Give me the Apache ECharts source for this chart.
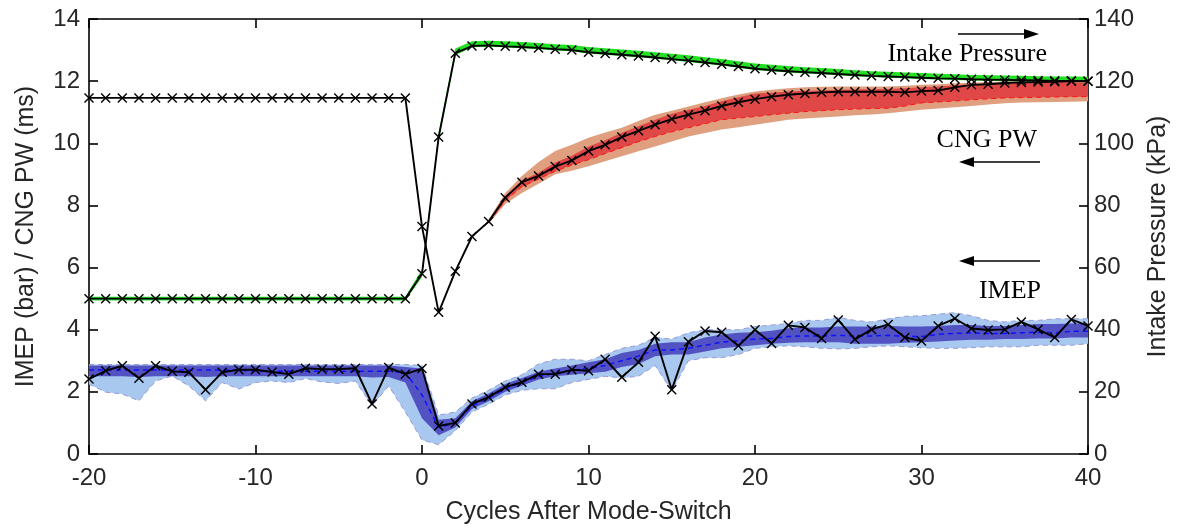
<!DOCTYPE html>
<html>
<head>
<meta charset="utf-8">
<script src="https://cdn.jsdelivr.net/npm/echarts/dist/echarts.min.js"></script>
<style>
html,body{margin:0;padding:0;background:#fff;}
#chart{width:1183px;height:527px;}
</style>
</head>
<body>
<div id="chart"></div>
<script>
// ---------------- data ----------------
const cycles = [-20,-19,-18,-17,-16,-15,-14,-13,-12,-11,-10,-9,-8,-7,-6,-5,-4,-3,-2,-1,
  0,1,2,3,4,5,6,7,8,9,10,11,12,13,14,15,16,17,18,19,20,
  21,22,23,24,25,26,27,28,29,30,31,32,33,34,35,36,37,38,39,40];

// IMEP (bar), single run (black x)
const imep = [2.41,2.68,2.84,2.44,2.84,2.66,2.63,2.07,2.63,2.71,2.71,2.64,2.57,2.76,2.73,2.73,2.76,1.61,2.78,2.57,
  2.75,0.90,1.00,1.61,1.83,2.15,2.31,2.57,2.57,2.71,2.68,
  3.05,2.47,2.95,3.79,2.07,3.61,3.96,3.92,3.48,4.00,
  3.56,4.14,4.07,3.72,4.31,3.69,4.01,4.17,3.75,3.64,
  4.12,4.36,4.04,3.99,4.01,4.25,4.01,3.75,4.33,4.12];
// IMEP mean (blue dashed)
const imepMean = [2.70,2.70,2.70,2.70,2.70,2.70,2.70,2.70,2.70,2.70,2.66,2.66,2.66,2.66,2.66,2.66,2.66,2.66,2.66,2.62,
  1.90,0.85,1.00,1.55,1.80,2.10,2.30,2.50,2.60,2.70,2.75,
  2.85,3.00,3.15,3.35,3.35,3.40,3.50,3.60,3.65,3.70,
  3.72,3.78,3.80,3.80,3.82,3.80,3.80,3.82,3.78,3.78,
  3.85,3.88,3.90,3.88,3.88,3.90,3.92,3.90,3.95,3.95];
// IMEP inner band (dark blue)
const imepInHi = [2.85,2.85,2.85,2.85,2.85,2.85,2.85,2.85,2.85,2.85,2.85,2.85,2.85,2.85,2.85,2.85,2.85,2.85,2.85,2.80,
  2.75,1.10,1.15,1.70,1.95,2.25,2.45,2.65,2.75,2.85,2.95,
  3.05,3.25,3.35,3.55,3.60,3.60,3.75,3.85,3.90,3.92,
  3.97,4.05,4.07,4.07,4.10,4.10,4.10,4.12,4.10,4.10,
  4.12,4.15,4.15,4.12,4.12,4.15,4.18,4.18,4.20,4.20];
const imepInLo = [2.50,2.50,2.50,2.48,2.50,2.50,2.50,2.48,2.50,2.50,2.50,2.50,2.50,2.50,2.50,2.50,2.50,2.46,2.48,2.30,
  1.15,0.60,0.85,1.45,1.70,2.00,2.20,2.40,2.50,2.55,2.60,
  2.65,2.80,2.90,3.15,3.20,3.20,3.30,3.40,3.45,3.50,
  3.55,3.58,3.60,3.60,3.60,3.55,3.55,3.55,3.58,3.60,
  3.62,3.65,3.68,3.68,3.70,3.70,3.72,3.72,3.75,3.75];
// IMEP outer band (light blue)
const imepOutHi = [2.88,2.88,2.88,2.88,2.88,2.88,2.88,2.88,2.88,2.88,2.88,2.88,2.88,2.88,2.88,2.88,2.88,2.88,2.88,2.88,
  2.85,1.25,1.35,1.80,2.05,2.35,2.55,2.90,3.05,3.05,3.00,
  3.20,3.40,3.50,3.75,3.70,3.90,4.00,4.00,4.00,4.10,
  4.15,4.20,4.30,4.30,4.40,4.30,4.25,4.35,4.43,4.45,
  4.50,4.55,4.45,4.30,4.25,4.30,4.30,4.35,4.35,4.35];
const imepOutLo = [2.25,1.99,1.93,1.71,2.35,2.51,2.19,1.71,2.30,2.09,2.30,2.35,2.30,2.43,2.32,2.27,2.35,1.55,2.19,1.35,
  0.45,0.30,0.75,1.35,1.60,1.90,2.05,2.10,2.10,2.30,2.40,
  2.50,2.45,2.50,2.85,2.03,3.00,3.10,3.10,3.20,3.40,
  3.45,3.48,3.45,3.40,3.38,3.40,3.45,3.48,3.45,3.42,
  3.40,3.40,3.42,3.45,3.45,3.45,3.50,3.50,3.50,3.55];

// CNG pulse width (ms)
const pw = [11.46,11.46,11.46,11.46,11.46,11.46,11.46,11.46,11.46,11.46,11.46,11.46,11.46,11.46,11.46,11.46,11.46,11.46,11.46,11.46,
  7.32,4.56,5.88,7.00,7.48,8.25,8.75,8.95,9.25,9.45,9.75,
  9.95,10.20,10.40,10.60,10.78,10.92,11.05,11.20,11.32,11.42,
  11.50,11.56,11.60,11.64,11.66,11.66,11.66,11.66,11.64,11.68,
  11.70,11.80,11.88,11.90,11.94,11.96,11.97,11.98,12.00,12.00];
const N20 = [null,null,null,null,null,null,null,null,null,null,null,null,null,null,null,null,null,null,null,null];
// CNG PW inner band (dark red), cycles 4..40
const pwInHi = N20.concat([null,null,null,null,7.50,8.30,8.80,9.05,9.38,9.60,9.90,
  10.10,10.34,10.55,10.76,10.95,11.08,11.20,11.35,11.48,11.60,
  11.63,11.67,11.69,11.70,11.72,11.73,11.74,11.75,11.77,11.80,
  11.83,11.87,11.90,11.92,11.94,11.96,11.97,11.98,11.99,12.00]);
const pwInLo = N20.concat([null,null,null,null,7.45,8.15,8.60,8.85,9.10,9.30,9.47,
  9.67,9.86,10.05,10.22,10.37,10.50,10.63,10.76,10.81,10.86,
  10.92,10.97,11.02,11.05,11.08,11.10,11.12,11.13,11.20,11.30,
  11.33,11.36,11.40,11.43,11.46,11.47,11.48,11.49,11.50,11.50]);
// CNG PW outer band (salmon)
const pwOutHi = N20.concat([null,null,null,null,7.55,8.40,8.95,9.40,9.75,9.95,10.18,
  10.35,10.50,10.72,10.92,11.05,11.18,11.32,11.45,11.57,11.67,
  11.72,11.77,11.80,11.82,11.83,11.83,11.83,11.83,11.85,11.88,
  11.90,11.93,11.95,11.97,11.99,12.00,12.02,12.03,12.04,12.04]);
const pwOutLo = N20.concat([null,null,null,null,7.40,8.05,8.40,8.70,9.00,9.12,9.26,
  9.42,9.58,9.74,9.90,10.06,10.22,10.33,10.44,10.52,10.60,
  10.68,10.76,10.80,10.83,10.86,10.90,10.93,10.97,11.02,11.08,
  11.12,11.16,11.20,11.25,11.29,11.31,11.32,11.33,11.34,11.35]);

// Intake pressure (kPa)
const ip = [50,50,50,50,50,50,50,50,50,50,50,50,50,50,50,50,50,50,50,50,
  58,102,129,131.3,131.5,131.2,131.0,130.7,130.3,130.0,129.3,
  128.9,128.5,128.1,127.6,127.1,126.6,126.0,125.4,124.7,124.0,
  123.6,123.2,122.9,122.6,122.3,122.0,121.7,121.5,121.3,121.1,
  120.9,120.8,120.6,120.5,120.4,120.3,120.2,120.1,120.1,120.0];
const ipLo = [49.4,49.4,49.4,49.4,49.4,49.4,49.4,49.4,49.4,49.4,49.4,49.4,49.4,49.4,49.4,49.4,49.4,49.4,49.4,49.4,
  57,101,128.3,130.9,131.1,130.9,130.6,130.3,129.9,129.6,128.9,
  128.5,128.1,127.7,127.2,126.7,126.2,125.6,125.0,124.3,123.6,
  123.2,122.8,122.5,122.2,121.9,121.6,121.3,121.1,120.9,120.7,
  120.5,120.4,120.2,120.1,120.0,119.9,119.8,119.7,119.7,119.6];
const ipHi = [50.6,50.6,50.6,50.6,50.6,50.6,50.6,50.6,50.6,50.6,50.6,50.6,50.6,50.6,50.6,50.6,50.6,50.6,50.6,50.6,
  59.5,103.5,130.5,132.8,133.0,132.8,132.6,132.3,131.9,131.6,131.0,
  130.6,130.2,129.8,129.3,128.8,128.3,127.7,127.1,126.4,125.7,
  125.3,124.9,124.5,124.2,123.9,123.5,123.2,123.0,122.8,122.6,
  122.4,122.2,122.0,121.9,121.8,121.7,121.6,121.5,121.5,121.4];

const xTicks = {min:-20, max:40, interval:10};
const yLeftTicks = {min:0, max:14, interval:2};
const yRightTicks = {min:0, max:140, interval:20};

// ---------------- helpers ----------------
const XMARK = 'path://M0,1L1,0L5,4L9,0L10,1L6,5L10,9L9,10L5,6L1,10L0,9L4,5Z';
function pairs(ys){ return cycles.map((c,i)=>[c, ys[i]]); }
function band(name, lo, hi, color, yAxisIndex, z){
  const pts = [];
  cycles.forEach((c,i)=>{ if(lo[i]!=null && hi[i]!=null) pts.push([c, lo[i], hi[i]]); });
  return {
    type:'custom', name, yAxisIndex, z, silent:true, clip:true,
    data: pts,
    encode:{x:0, y:[1,2]},
    renderItem: function(params, api){
      if(params.dataIndex !== 0) return null;
      const up = pts.map(p=>api.coord([p[0], p[2]]));
      const dn = pts.map(p=>api.coord([p[0], p[1]])).reverse();
      return {type:'polygon', shape:{points: up.concat(dn)}, style:{fill: color, stroke: null}};
    }
  };
}
function dashed(name, ys, color, width, yAxisIndex, z){
  return {type:'line', name, data: pairs(ys), yAxisIndex, z, symbol:'none', silent:true,
    connectNulls:false, lineStyle:{color, width, type:[5,4]}};
}
function marked(name, ys, yAxisIndex, z){
  return {type:'line', name, data: pairs(ys), yAxisIndex, z, silent:true,
    symbol: XMARK, symbolSize: 10, showAllSymbol:true,
    itemStyle:{color:'#000'}, lineStyle:{color:'#000', width:1.9}};
}

const FONT = 'Liberation Sans';
const TXT = '#262626';
const axisLineStyle = {color:'#000', width:1.6};
const tickCommon = {inside:true, length:9, lineStyle:{color:'#000', width:1.6}};

const option = {
  animation:false,
  backgroundColor:'#fff',
  grid:{left:89, right:95, top:19, bottom:73, containLabel:false, outerBoundsMode:'none'},
  xAxis:[
    {type:'value', position:'bottom', min:xTicks.min, max:xTicks.max, interval:xTicks.interval,
     axisLine:{show:true, onZero:false, lineStyle:axisLineStyle},
     axisTick:tickCommon, splitLine:{show:false},
     axisLabel:{fontFamily:FONT, fontSize:24, color:TXT, margin:12},
     name:'Cycles After Mode-Switch', nameLocation:'middle', nameGap:46,
     nameTextStyle:{fontFamily:FONT, fontSize:25, color:TXT}},
    {type:'value', position:'top', min:xTicks.min, max:xTicks.max, interval:xTicks.interval,
     axisLine:{show:true, onZero:false, lineStyle:axisLineStyle},
     axisTick:tickCommon, splitLine:{show:false}, axisLabel:{show:false}}
  ],
  yAxis:[
    {type:'value', position:'left', min:yLeftTicks.min, max:yLeftTicks.max, interval:yLeftTicks.interval,
     axisLine:{show:true, onZero:false, lineStyle:axisLineStyle},
     axisTick:tickCommon, splitLine:{show:false},
     axisLabel:{fontFamily:FONT, fontSize:24, color:TXT, margin:9},
     name:'IMEP (bar) / CNG PW (ms)', nameLocation:'middle', nameGap:50,
     nameTextStyle:{fontFamily:FONT, fontSize:25, color:TXT}},
    {type:'value', position:'right', min:yRightTicks.min, max:yRightTicks.max, interval:yRightTicks.interval,
     axisLine:{show:true, onZero:false, lineStyle:axisLineStyle},
     axisTick:tickCommon, splitLine:{show:false},
     axisLabel:{fontFamily:FONT, fontSize:24, color:TXT, margin:6},
     name:'Intake Pressure (kPa)', nameLocation:'middle', nameGap:58, nameRotate:90,
     nameTextStyle:{fontFamily:FONT, fontSize:25, color:TXT}}
  ],
  series:[
    band('IMEP outer', imepOutLo, imepOutHi, '#a8c8f0', 0, 1),
    band('IMEP inner', imepInLo, imepInHi, '#5252c2', 0, 2),
    dashed('IMEP outer hi', imepOutHi, '#9a9ad6', 1, 0, 3),
    dashed('IMEP outer lo', imepOutLo, '#9a9ad6', 1, 0, 3),
    dashed('IMEP mean', imepMean, '#1010ff', 1.5, 0, 4),
    band('PW outer', pwOutLo, pwOutHi, '#e0a080', 0, 1),
    band('PW inner', pwInLo, pwInHi, '#e04848', 0, 2),
    dashed('PW inner lo', pwInLo, '#ff1010', 1, 0, 3),
    band('Intake band', ipLo, ipHi, '#22e022', 1, 2),
    marked('IMEP', imep, 0, 10),
    marked('CNG PW', pw, 0, 10),
    marked('Intake Pressure', ip, 1, 10)
  ],
  graphic:[
    {type:'text', right:1183-1047, top:41, style:{text:'Intake Pressure', font:'26px "Liberation Serif"', fill:'#000'}},
    {type:'line', shape:{x1:958, y1:34, x2:1026, y2:34}, style:{stroke:'#000', lineWidth:1.6}},
    {type:'polygon', shape:{points:[[1039,34],[1024,29],[1024,39]]}, style:{fill:'#000'}},
    {type:'text', right:1183-1037, top:127, style:{text:'CNG PW', font:'26px "Liberation Serif"', fill:'#000'}},
    {type:'line', shape:{x1:973, y1:162, x2:1040, y2:162}, style:{stroke:'#000', lineWidth:1.6}},
    {type:'polygon', shape:{points:[[959,162],[974,157],[974,167]]}, style:{fill:'#000'}},
    {type:'line', shape:{x1:973, y1:261, x2:1040, y2:261}, style:{stroke:'#000', lineWidth:1.6}},
    {type:'polygon', shape:{points:[[959,261],[974,256],[974,266]]}, style:{fill:'#000'}},
    {type:'text', right:1183-1041, top:278, style:{text:'IMEP', font:'26px "Liberation Serif"', fill:'#000'}}
  ]
};
const chart = echarts.init(document.getElementById('chart'), null, {renderer:'canvas'});
chart.setOption(option);
</script>
</body>
</html>
